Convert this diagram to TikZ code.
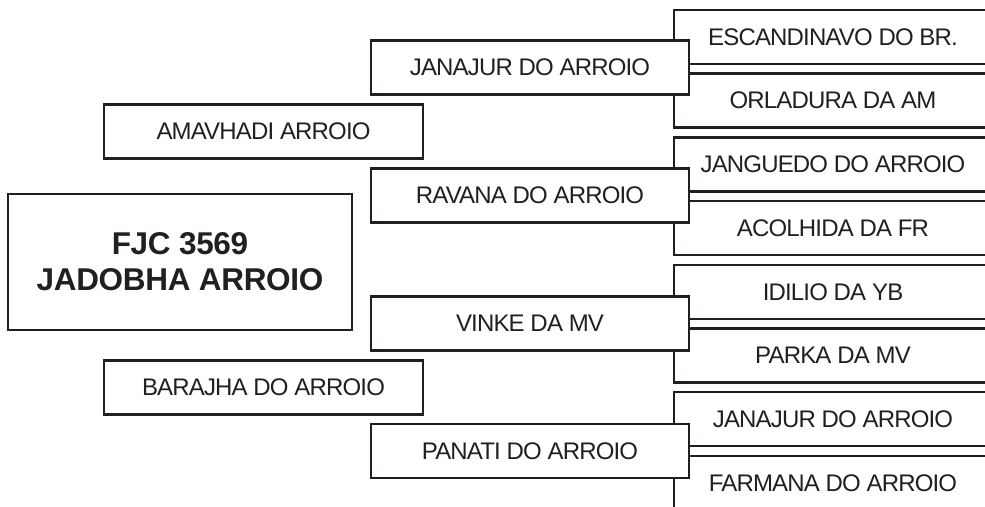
\documentclass[tikz,border=0pt]{standalone}
\usepackage{fontspec}
\setmainfont{Liberation Sans}
\newfontfamily\namefont[LetterSpace=-3.5]{Liberation Sans}
\newfontfamily\rootfont[LetterSpace=-1]{Liberation Sans}
\usetikzlibrary{positioning}
\definecolor{ink}{HTML}{231F20}

\begin{document}
\begin{tikzpicture}[x=1pt, y=-1pt,
  namebox/.style={draw=ink, text=ink, line width=2.5pt, fill=white, outer sep=0pt,
    inner sep=0pt, minimum width=318pt, minimum height=54pt,
    font=\namefont\fontsize{24}{28}\selectfont},
  rootbox/.style={namebox, minimum width=344pt, minimum height=136pt, align=center,
    font=\rootfont\fontsize{31.5}{36}\selectfont\bfseries}]
  \useasboundingbox (0,0) rectangle (985,506);
  \clip (0,0) rectangle (985,506);

  % great-grandparents (open to the right)
  \node[namebox] (ggA) at (833,37) {ESCANDINAVO DO BR.};
  \node[namebox, below=9.7pt of ggA] (ggB) {ORLADURA DA AM};
  \node[namebox, below=9.7pt of ggB] (ggC) {JANGUEDO DO ARROIO};
  \node[namebox, below=9.7pt of ggC] (ggD) {ACOLHIDA DA FR};
  \node[namebox, below=9.7pt of ggD] (ggE) {IDILIO DA YB};
  \node[namebox, below=9.7pt of ggE] (ggF) {PARKA DA MV};
  \node[namebox, below=9.7pt of ggF] (ggG) {JANAJUR DO ARROIO};
  \node[namebox, below=9.7pt of ggG] (ggH) {FARMANA DO ARROIO};

  % grandparents
  \node[namebox] (gpA) at (530,67.5) {JANAJUR DO ARROIO};
  \node[namebox] (gpB) at (530,195.5) {RAVANA DO ARROIO};
  \node[namebox] (gpC) at (530,323.5) {VINKE DA MV};
  \node[namebox] (gpD) at (530,451) {PANATI DO ARROIO};

  % parents
  \node[namebox, minimum width=319pt] (sire) at (263.5,131.5) {AMAVHADI ARROIO};
  \node[namebox, minimum width=319pt] (dam) at (263.5,387.5) {BARAJHA DO ARROIO};

  \node[rootbox] (root) at (180,262) {FJC 3569\\JADOBHA ARROIO};
\end{tikzpicture}
\end{document}
